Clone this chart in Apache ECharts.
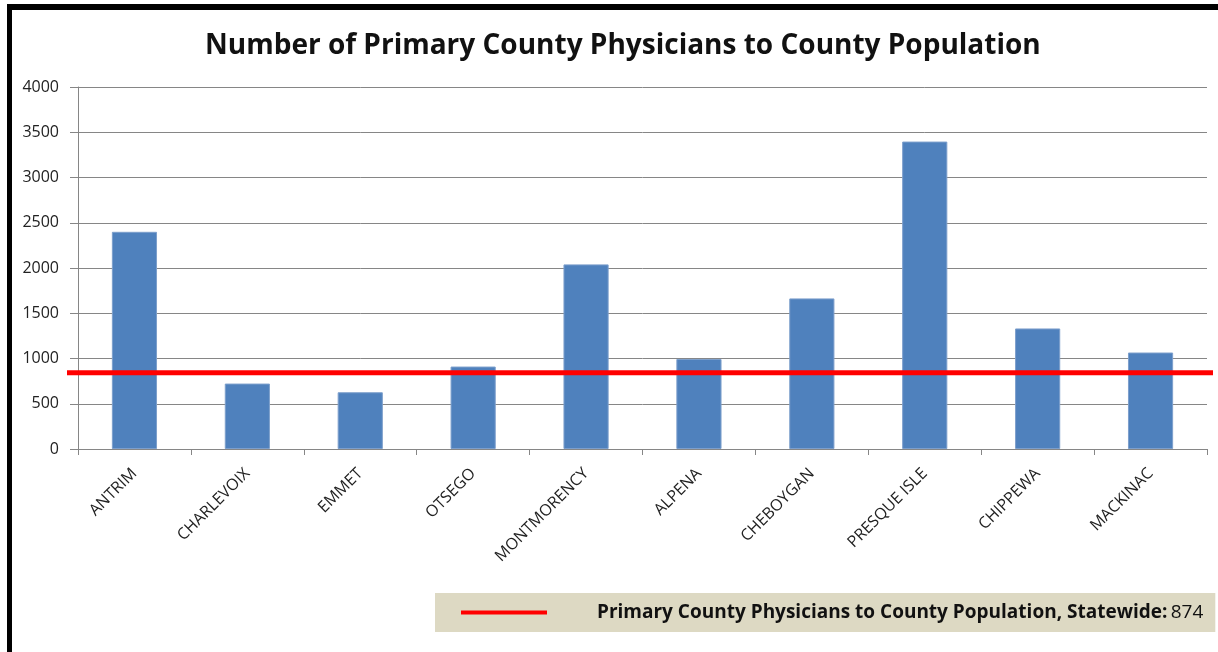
<!DOCTYPE html>
<html>
<head>
<meta charset="utf-8">
<script src="https://cdn.jsdelivr.net/npm/echarts@6/dist/echarts.min.js"></script>
<style>
    html, body { margin: 0; padding: 0; background: #fff; }
    #chart { position: absolute; left: 0; top: 0; width: 1218px; height: 652px; }
    #frame {
        position: absolute; left: 7px; top: 4px; right: 0; bottom: 0;
        border-left: 5px solid #000; border-top: 6px solid #000;
        pointer-events: none;
    }
</style>
</head>
<body>
<div id="chart"></div>
<div id="frame"></div>
<script>
var counties = ['ANTRIM', 'CHARLEVOIX', 'EMMET', 'OTSEGO', 'MONTMORENCY', 'ALPENA', 'CHEBOYGAN', 'PRESQUE ISLE', 'CHIPPEWA', 'MACKINAC'];
var ratios = [2400, 723, 627, 911, 2040, 995, 1664, 3397, 1332, 1066];
var statewideLabel = 874;   // value written in the legend
var statewideLine = 843;    // where the red line sits in the picture
var yTicks = { min: 0, max: 4000, interval: 500 };

var axisGray = '#868686';
var textColor = '#222';
var font = 'Open Sans';

var chart = echarts.init(document.getElementById('chart'));
chart.setOption({
    animation: false,
    title: {
        text: 'Number of Primary County Physicians to County Population',
        left: 200,
        top: 27,
        textStyle: { fontFamily: font, fontSize: 28, fontWeight: 'bold', color: '#111' },
    },
    legend: {
        data: ['Statewide'],
        left: 435,
        top: 593,
        padding: [10, 12, 10, 26],
        backgroundColor: '#DDD9C3',
        icon: 'rect',
        itemWidth: 86,
        itemHeight: 4,
        itemStyle: { color: '#FF0000' },
        formatter: function () {
            return '{b|Primary County Physicians to County Population, Statewide:} {n|' + statewideLabel + '}';
        },
        textStyle: {
            rich: {
                b: { fontFamily: font, fontSize: 19, lineHeight: 21, fontWeight: 'bold', color: '#111', padding: [0, 0, 0, 45] },
                n: { fontFamily: font, fontSize: 19, lineHeight: 21, color: '#111' },
            },
        },
    },
    grid: [
        { left: 78, right: 11, top: 87, bottom: 203 },
        { left: 67, right: 5, top: 87, bottom: 203 },
    ],
    xAxis: [
        {
            type: 'category',
            gridIndex: 0,
            data: counties,
            axisLine: { lineStyle: { color: axisGray } },
            axisTick: { show: true, length: 6, lineStyle: { color: axisGray } },
            axisLabel: { color: textColor, fontFamily: font, fontSize: 16, rotate: 45, margin: 22, interval: 0 },
        },
        { type: 'value', gridIndex: 1, min: 0, max: 1, show: false },
    ],
    yAxis: [
        {
            type: 'value',
            gridIndex: 0,
            min: yTicks.min,
            max: yTicks.max,
            interval: yTicks.interval,
            axisLine: { show: true, lineStyle: { color: axisGray } },
            axisTick: { show: true, length: 8, lineStyle: { color: axisGray } },
            splitLine: { lineStyle: { color: axisGray, width: 1 } },
            axisLabel: { color: textColor, fontFamily: font, fontSize: 16, margin: 19, formatter: function (v) { return String(v); } },
        },
        { type: 'value', gridIndex: 1, min: yTicks.min, max: yTicks.max, show: false },
    ],
    series: [
        {
            type: 'bar',
            name: 'Physicians',
            xAxisIndex: 0,
            yAxisIndex: 0,
            data: ratios,
            barCategoryGap: '60%',
            itemStyle: { color: '#4F81BD', borderColor: '#7D9FCC', borderWidth: 1 },
        },
        {
            type: 'line',
            name: 'Statewide',
            xAxisIndex: 1,
            yAxisIndex: 1,
            data: [[0, statewideLine], [1, statewideLine]],
            showSymbol: false,
            symbol: 'none',
            z: 5,
            lineStyle: { color: '#FF0000', width: 5 },
            itemStyle: { color: '#FF0000' },
        },
    ],
});
</script>
</body>
</html>
